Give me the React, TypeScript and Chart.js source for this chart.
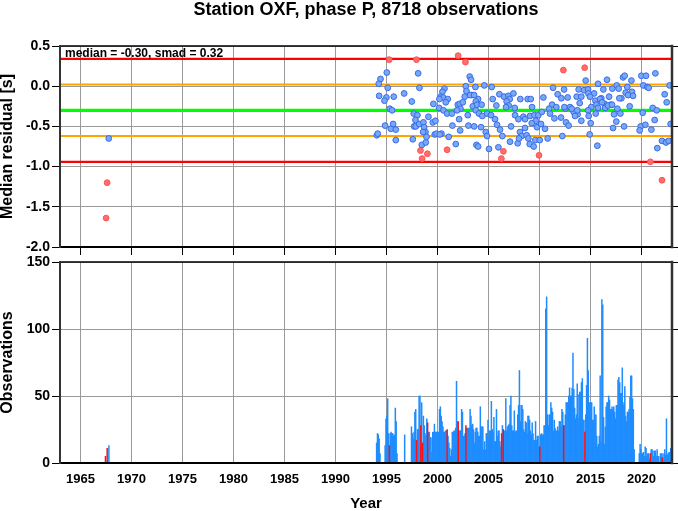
import React, { useEffect, useRef } from "react";
import { Chart, registerables } from "chart.js";

Chart.register(...registerables);

const FONT = "'Liberation Sans', Arial, Helvetica, sans-serif";

const chartTitle = "Station OXF, phase P, 8718 observations";
const yearTicks = [1965, 1970, 1975, 1980, 1985, 1990, 1995, 2000, 2005, 2010, 2015, 2020];
const yearMin = 1963;
const yearMax = 2023;
const residualTicks = [-2.0, -1.5, -1.0, -0.5, 0.0, 0.5];
const countTicks = [0, 50, 100, 150];
const median = -0.3;
const smad = 0.32;

// monthly median residuals [time, residual]
const blue1960s: [number, number][] = [[1967.78, -0.65]];
const blue1990s: [number, number][] = [
  [1995.04, 0.17], [1994.42, 0.09], [1994.25, 0.03], [1995.13, -0.02], [1998.11, 0.16], [1998.24, -0.02],
  [1994.29, -0.12], [1995.0, -0.14], [1994.81, -0.18], [1995.72, -0.13], [1996.74, -0.09], [1997.49, -0.19],
  [1995.33, -0.28], [1995.56, -0.3], [1997.68, -0.34], [1998.04, -0.36], [1997.85, -0.42], [1999.12, -0.38],
  [1997.72, -0.5], [1997.88, -0.5], [1998.21, -0.47], [1998.63, -0.45], [1998.7, -0.51], [1999.55, -0.45],
  [1999.81, -0.43], [1994.87, -0.49], [1995.66, -0.47], [1995.43, -0.53], [1995.92, -0.54], [1994.06, -0.61],
  [1994.15, -0.59], [1995.92, -0.67], [1997.59, -0.66], [1998.83, -0.57], [1998.6, -0.57], [1998.93, -0.63],
  [1999.74, -0.6], [1999.91, -0.59], [1998.47, -0.73], [1998.86, -0.7], [1999.61, -0.22],
];
const blue2000s: [number, number][] = [
  [2000.4, -0.59], [2000.23, -0.6], [2001.11, -0.63], [2001.8, -0.72], [2000.69, -0.03], [2000.49, -0.07],
  [2000.33, -0.13], [2000.56, -0.14], [2001.02, -0.16], [2000.2, -0.16], [2000.82, -0.2], [2000.17, -0.27],
  [2000.59, -0.3], [2000.95, -0.34], [2001.41, -0.34], [2002.0, -0.23], [2002.19, -0.22], [2002.49, -0.2],
  [2002.26, -0.28], [2001.93, -0.3], [2002.13, -0.41], [2002.98, -0.36], [2001.47, -0.49], [2003.04, -0.49],
  [2003.6, -0.5], [2002.23, -0.55], [2003.17, 0.12], [2003.3, 0.08], [2002.78, 0.0], [2003.73, -0.01],
  [2002.85, -0.06], [2003.37, -0.11], [2002.68, -0.13], [2003.21, -0.11], [2003.6, -0.11], [2003.99, -0.16],
  [2003.76, -0.19], [2003.47, -0.25], [2003.89, -0.23], [2003.83, -0.73], [2003.99, -0.75],
  [2004.6, 0.01], [2005.32, -0.01], [2004.34, -0.23], [2005.42, -0.16], [2006.08, -0.1], [2005.78, -0.24],
  [2006.53, -0.13], [2006.96, -0.12], [2007.09, -0.16], [2007.45, -0.09], [2006.79, -0.19], [2006.99, -0.24],
  [2006.73, -0.26], [2007.58, -0.27], [2008.13, -0.16], [2008.85, -0.16], [2009.15, -0.16], [2009.28, -0.26],
  [2003.76, -0.3], [2004.08, -0.34], [2004.41, -0.37], [2004.87, -0.34], [2005.26, -0.36], [2005.65, -0.41],
  [2005.85, -0.48], [2004.28, -0.51], [2004.74, -0.57], [2004.87, -0.62], [2005.06, -0.78], [2005.98, -0.76],
  [2007.12, -0.69], [2007.87, -0.71], [2006.14, -0.54], [2006.37, -0.62], [2007.22, -0.5], [2007.61, -0.36],
  [2007.94, -0.41], [2008.43, -0.38], [2008.59, -0.41], [2009.08, -0.37], [2009.51, -0.36], [2009.9, -0.36],
  [2009.64, -0.43], [2009.25, -0.46], [2008.59, -0.52], [2008.1, -0.57], [2008.26, -0.62], [2008.75, -0.61],
  [2008.92, -0.65], [2008.0, -0.65], [2009.6, -0.67], [2009.05, -0.72], [2009.44, -0.75], [2009.77, -0.51],
];
const blue2010s: [number, number][] = [
  [2010.39, -0.14], [2011.34, -0.02], [2012.42, -0.04], [2011.79, -0.1], [2012.15, -0.15], [2012.77, -0.14],
  [2013.66, -0.13], [2011.24, -0.23], [2011.66, -0.26], [2012.55, -0.28], [2013.0, -0.26], [2013.36, -0.32],
  [2013.75, -0.35], [2010.95, -0.28], [2011.04, -0.34], [2011.47, -0.4], [2010.23, -0.32], [2010.16, -0.47],
  [2010.55, -0.53], [2010.03, -0.67], [2010.81, -0.65], [2012.25, -0.62], [2012.12, -0.39], [2012.61, -0.45],
  [2012.87, -0.49], [2013.17, -0.28], [2013.49, -0.37], [2012.45, -0.26],
  [2014.54, 0.07], [2015.75, 0.03], [2016.63, 0.08], [2018.2, 0.11], [2018.36, 0.13], [2019.02, 0.07],
  [2013.85, -0.04], [2014.38, -0.05], [2014.77, -0.04], [2015.36, -0.09], [2016.27, -0.04], [2017.15, -0.03],
  [2017.58, 0.01], [2017.77, -0.03], [2018.62, -0.01], [2018.46, -0.08], [2019.08, -0.07], [2014.11, -0.13],
  [2013.95, -0.21], [2014.8, -0.09], [2014.96, -0.13], [2015.49, -0.18], [2016.07, -0.15], [2016.4, -0.22],
  [2016.83, -0.13], [2016.99, -0.23], [2018.04, -0.15], [2018.69, -0.11], [2019.18, -0.12], [2017.84, -0.15],
  [2015.94, -0.16], [2016.14, -0.2], [2016.45, -0.27], [2016.73, -0.24], [2017.12, -0.23], [2015.09, -0.26],
  [2015.58, -0.23], [2015.75, -0.27], [2018.85, -0.25], [2017.64, -0.28], [2017.32, -0.35], [2017.94, -0.34],
  [2015.52, -0.34], [2014.77, -0.3], [2013.72, -0.3], [2014.11, -0.43], [2014.83, -0.37], [2015.03, -0.46],
  [2017.54, -0.44], [2017.22, -0.52], [2018.3, -0.5], [2019.93, -0.5], [2019.83, -0.55], [2014.93, -0.6],
  [2015.68, -0.74],
];
const blue2020s: [number, number][] = [
  [2020.0, 0.13], [2020.45, 0.13], [2021.37, 0.16], [2022.77, 0.01], [2020.19, 0.01], [2020.58, -0.01],
  [2020.71, -0.02], [2020.13, -0.33], [2021.11, -0.27], [2021.5, -0.3], [2021.3, -0.42], [2020.39, -0.48],
  [2020.98, -0.54], [2022.48, -0.2], [2022.28, -0.1], [2022.87, -0.47], [2021.56, -0.77], [2022.02, -0.68],
  [2022.41, -0.7], [2022.67, -0.68],
];
const redPoints: [number, number][] = [
  [1967.52, -1.64], [1967.62, -1.2], [1995.27, 0.33], [1997.95, 0.33], [1998.34, -0.8], [1998.5, -0.9],
  [1999.02, -0.84], [2000.95, -0.79], [2002.03, 0.38], [2002.75, 0.3], [2006.27, -0.9], [2006.47, -0.81],
  [2009.96, -0.86], [2012.35, 0.2], [2014.44, 0.23], [2020.88, -0.94], [2022.02, -1.17],
];

// observations per month, Jan 1994 .. Dec 2022 (one row per year)
const countStartYear = 1994;
const monthlyCounts = [
  15, 22, 21, 18, 7, 0, 0, 0, 0, 0, 13, 33,
  35, 48, 22, 0, 22, 23, 22, 22, 20, 21, 41, 31,
  7, 0, 0, 0, 0, 0, 0, 0, 0, 21, 0, 0,
  0, 0, 0, 0, 0, 27, 22, 18, 23, 38, 40, 0,
  25, 25, 50, 50, 0, 45, 0, 35, 28, 22, 20, 33,
  0, 23, 23, 19, 19, 8, 23, 23, 29, 23, 23, 23,
  23, 23, 40, 42, 35, 31, 27, 23, 23, 24, 24, 0,
  20, 15, 11, 5, 10, 23, 23, 24, 24, 26, 61, 31,
  0, 24, 24, 24, 40, 38, 20, 20, 22, 0, 26, 26,
  26, 26, 40, 35, 28, 29, 25, 15, 23, 26, 26, 23,
  20, 20, 42, 27, 27, 27, 10, 16, 10, 22, 22, 32,
  18, 24, 24, 46, 25, 23, 34, 16, 16, 40, 20, 24,
  24, 16, 12, 0, 28, 0, 24, 24, 48, 24, 27, 28,
  29, 43, 50, 28, 24, 24, 39, 23, 24, 24, 36, 43,
  69, 31, 43, 43, 40, 25, 23, 31, 30, 22, 35, 35,
  32, 24, 21, 30, 22, 17, 17, 31, 17, 20, 20, 12,
  0, 21, 22, 21, 21, 28, 28, 115, 124, 36, 28, 36,
  36, 45, 41, 38, 24, 32, 26, 24, 24, 27, 24, 31,
  31, 27, 40, 38, 0, 28, 36, 45, 45, 45, 50, 56,
  50, 50, 56, 82, 55, 41, 33, 36, 59, 51, 33, 53,
  53, 60, 63, 32, 32, 0, 36, 58, 93, 69, 45, 45,
  45, 45, 32, 32, 42, 36, 36, 20, 12, 14, 20, 65,
  16, 122, 118, 34, 14, 27, 42, 45, 45, 50, 47, 40,
  40, 42, 40, 42, 38, 33, 43, 43, 62, 64, 60, 52,
  52, 71, 43, 45, 57, 35, 31, 38, 38, 40, 49, 65,
  65, 48, 40, 10, 0, 0, 0, 0, 0, 7, 14, 10,
  7, 7, 8, 5, 12, 11, 5, 7, 7, 3, 0, 10,
  10, 9, 5, 9, 9, 5, 10, 5, 5, 0, 7, 7,
  0, 7, 3, 10, 6, 33, 6, 7, 8, 8, 11, 8,
];
const earlyBlueMonths: [number, number][] = [[1967, 9]];
const earlyBlueCounts = [13];
const redBarMonths: [number, number][] = [
  [1967, 5], [1967, 7], [1995, 3], [1997, 11], [1998, 4], [1998, 6], [1999, 0], [2000, 11], [2002, 0],
  [2002, 9], [2006, 3], [2006, 5], [2010, 0], [2012, 4], [2014, 5], [2020, 10], [2022, 0],
];
const redBarCounts = [5, 11, 13, 17, 28, 15, 30, 25, 31, 28, 22, 25, 12, 28, 23, 7, 4];

const monthTime = (year: number, month: number) => year + (month + 0.5) / 12;
const toXY = (pts: [number, number][]) => pts.map(([x, y]) => ({ x, y }));

const GRID = "#9a9a9a";
const tickFont = { family: FONT, size: 14, weight: "bold" as const };

function alignPx(p: number) {
  return Math.round(p - 0.5) + 0.5;
}

function fixSize(dim: "width" | "height", size: number) {
  return (s: any) => {
    s[dim] = size;
    s.paddingTop = 0;
    s.paddingBottom = 0;
    s.paddingLeft = 0;
    s.paddingRight = 0;
  };
}

function drawFrame(chart: any, bottomTicks: boolean) {
  const { ctx, chartArea: a, scales } = chart;
  ctx.save();
  ctx.strokeStyle = "#000";
  ctx.lineWidth = 1;
  ctx.beginPath();
  for (const t of scales.y.ticks) {
    const py = alignPx(scales.y.getPixelForValue(t.value));
    ctx.moveTo(a.left - 8, py);
    ctx.lineTo(a.left, py);
    ctx.moveTo(a.right, py);
    ctx.lineTo(a.right + 8, py);
  }
  if (bottomTicks) {
    for (const t of scales.x.ticks) {
      const px = alignPx(scales.x.getPixelForValue(t.value));
      ctx.moveTo(px, a.bottom);
      ctx.lineTo(px, a.bottom + 8);
    }
  }
  ctx.stroke();
  ctx.lineCap = "square";
  ctx.strokeStyle = "#000";
  ctx.lineWidth = 1.5;
  ctx.beginPath();
  ctx.moveTo(a.left, a.top);
  ctx.lineTo(a.right, a.top);
  ctx.stroke();
  ctx.lineWidth = 2;
  ctx.beginPath();
  ctx.moveTo(a.left, a.bottom);
  ctx.lineTo(a.right, a.bottom);
  ctx.stroke();
  ctx.strokeStyle = "#333";
  ctx.lineWidth = 2;
  ctx.beginPath();
  ctx.moveTo(a.left, a.top);
  ctx.lineTo(a.left, a.bottom);
  ctx.stroke();
  ctx.lineWidth = 2.5;
  ctx.beginPath();
  ctx.moveTo(a.right, a.top);
  ctx.lineTo(a.right, a.bottom);
  ctx.stroke();
  ctx.restore();
}

const topDecor = {
  id: "topDecor",
  afterDraw(chart: any) {
    const { ctx, chartArea: a } = chart;
    ctx.save();
    ctx.fillStyle = "#000";
    ctx.textBaseline = "alphabetic";
    ctx.textAlign = "center";
    ctx.font = `bold 18px ${FONT}`;
    ctx.fillText(chartTitle, (a.left + a.right) / 2, 15);
    ctx.textAlign = "left";
    ctx.font = `bold 12px ${FONT}`;
    ctx.fillText(`median = ${median.toFixed(2)}, smad = ${smad.toFixed(2)}`, a.left + 5, a.top + 11);
    ctx.restore();
    drawFrame(chart, true);
  },
};

const bottomDecor = {
  id: "bottomDecor",
  afterDraw(chart: any) {
    drawFrame(chart, false);
  },
};

function levelLine(value: number, color: string, width: number) {
  return {
    type: "line" as const,
    data: [{ x: yearMin, y: value }, { x: yearMax, y: value }],
    borderColor: color,
    borderWidth: width,
    pointRadius: 0,
    showLine: true,
    tension: 0,
  };
}

function topConfig(): any {
  const bluePoints = [...blue1960s, ...blue1990s, ...blue2000s, ...blue2010s, ...blue2020s];
  return {
    type: "scatter",
    data: {
      datasets: [
        {
          data: toXY(bluePoints),
          backgroundColor: "#78a8f8",
          borderColor: "#3a6ae6",
          borderWidth: 1,
          pointRadius: 2.9,
        },
        {
          data: toXY(redPoints),
          backgroundColor: "#ff6e6e",
          borderColor: "#ff5050",
          borderWidth: 1,
          pointRadius: 2.9,
        },
        levelLine(median, "#00ff00", 3.2),
        levelLine(median + smad, "#ffa500", 2),
        levelLine(median - smad, "#ffa500", 2),
        levelLine(median + 2 * smad, "#ff0000", 2.2),
        levelLine(median - 2 * smad, "#ff0000", 2.2),
      ],
    },
    options: {
      animation: false,
      responsive: false,
      maintainAspectRatio: false,
      devicePixelRatio: 1,
      layout: { padding: { top: 46, right: 6, bottom: 9, left: 0 } },
      plugins: { legend: { display: false }, tooltip: { enabled: false } },
      scales: {
        x: {
          type: "linear",
          min: yearMin,
          max: yearMax,
          afterBuildTicks: (s: any) => {
            s.ticks = yearTicks.map((v) => ({ value: v }));
          },
          afterFit: fixSize("height", 0),
          ticks: { display: false },
          grid: { color: GRID, lineWidth: 1, drawTicks: false },
          border: { display: false },
        },
        y: {
          type: "linear",
          min: residualTicks[0],
          max: residualTicks[residualTicks.length - 1],
          afterBuildTicks: (s: any) => {
            s.ticks = residualTicks.map((v) => ({ value: v }));
          },
          afterFit: fixSize("width", 60),
          ticks: {
            padding: 10,
            color: "#000",
            font: tickFont,
            callback: (v: any) => Number(v).toFixed(1),
          },
          grid: { color: GRID, lineWidth: 1, drawTicks: false },
          border: { display: false },
          title: {
            display: true,
            text: "Median residual [s]",
            color: "#000",
            font: { family: FONT, size: 16, weight: "bold", lineHeight: 0.94 },
            padding: 0,
          },
        },
      },
    },
    plugins: [topDecor],
  };
}

function bottomConfig(): any {
  const blueBars: { x: number; y: number }[] = [];
  monthlyCounts.forEach((c, i) => {
    if (c > 0) blueBars.push({ x: monthTime(countStartYear + Math.floor(i / 12), i % 12), y: c });
  });
  earlyBlueMonths.forEach(([yr, m], i) => blueBars.push({ x: monthTime(yr, m), y: earlyBlueCounts[i] }));
  const redBars = redBarMonths.map(([yr, m], i) => ({ x: monthTime(yr, m), y: redBarCounts[i] }));
  const barCommon = {
    barPercentage: 1,
    categoryPercentage: 1,
    grouped: false,
    borderWidth: 0,
  };
  return {
    type: "bar",
    data: {
      datasets: [
        { ...barCommon, data: redBars, backgroundColor: "#ff1010" },
        { ...barCommon, data: blueBars, backgroundColor: "#1e8cff" },
      ],
    },
    options: {
      animation: false,
      responsive: false,
      maintainAspectRatio: false,
      devicePixelRatio: 1,
      layout: { padding: { top: 6, right: 6, bottom: 0, left: 0 } },
      plugins: { legend: { display: false }, tooltip: { enabled: false } },
      scales: {
        x: {
          type: "linear",
          min: yearMin,
          max: yearMax,
          offset: false,
          afterBuildTicks: (s: any) => {
            s.ticks = yearTicks.map((v) => ({ value: v }));
          },
          afterFit: fixSize("height", 48),
          ticks: {
            padding: 8.5,
            color: "#000",
            font: { family: FONT, size: 13, weight: "bold" },
            maxRotation: 0,
            autoSkip: false,
            callback: (v: any) => String(v),
          },
          grid: { color: GRID, lineWidth: 1, drawTicks: false, offset: false },
          border: { display: false },
          title: {
            display: true,
            text: "Year",
            color: "#000",
            font: { family: FONT, size: 15, weight: "bold", lineHeight: 0.96 },
            padding: 0,
          },
        },
        y: {
          type: "linear",
          min: countTicks[0],
          max: countTicks[countTicks.length - 1],
          afterBuildTicks: (s: any) => {
            s.ticks = countTicks.map((v) => ({ value: v }));
          },
          afterFit: fixSize("width", 60),
          ticks: {
            padding: 10,
            color: "#000",
            font: tickFont,
            callback: (v: any) => String(v),
          },
          grid: { color: GRID, lineWidth: 1, drawTicks: false },
          border: { display: false },
          title: {
            display: true,
            text: "Observations",
            color: "#000",
            font: { family: FONT, size: 16, weight: "bold", lineHeight: 0.94 },
            padding: 0,
          },
        },
      },
    },
    plugins: [bottomDecor],
  };
}

export default function App() {
  const topRef = useRef<HTMLCanvasElement>(null);
  const botRef = useRef<HTMLCanvasElement>(null);
  useEffect(() => {
    const c1 = new Chart(topRef.current as HTMLCanvasElement, topConfig());
    const c2 = new Chart(botRef.current as HTMLCanvasElement, bottomConfig());
    return () => {
      c1.destroy();
      c2.destroy();
    };
  }, []);
  return (
    <div style={{ position: "fixed", left: 0, top: 0, width: 678, height: 511, background: "#fff" }}>
      <canvas
        ref={topRef}
        width={678}
        height={256}
        style={{ position: "absolute", left: 0, top: 0, width: 678, height: 256, display: "block" }}
      />
      <canvas
        ref={botRef}
        width={678}
        height={255}
        style={{ position: "absolute", left: 0, top: 256, width: 678, height: 255, display: "block" }}
      />
    </div>
  );
}
